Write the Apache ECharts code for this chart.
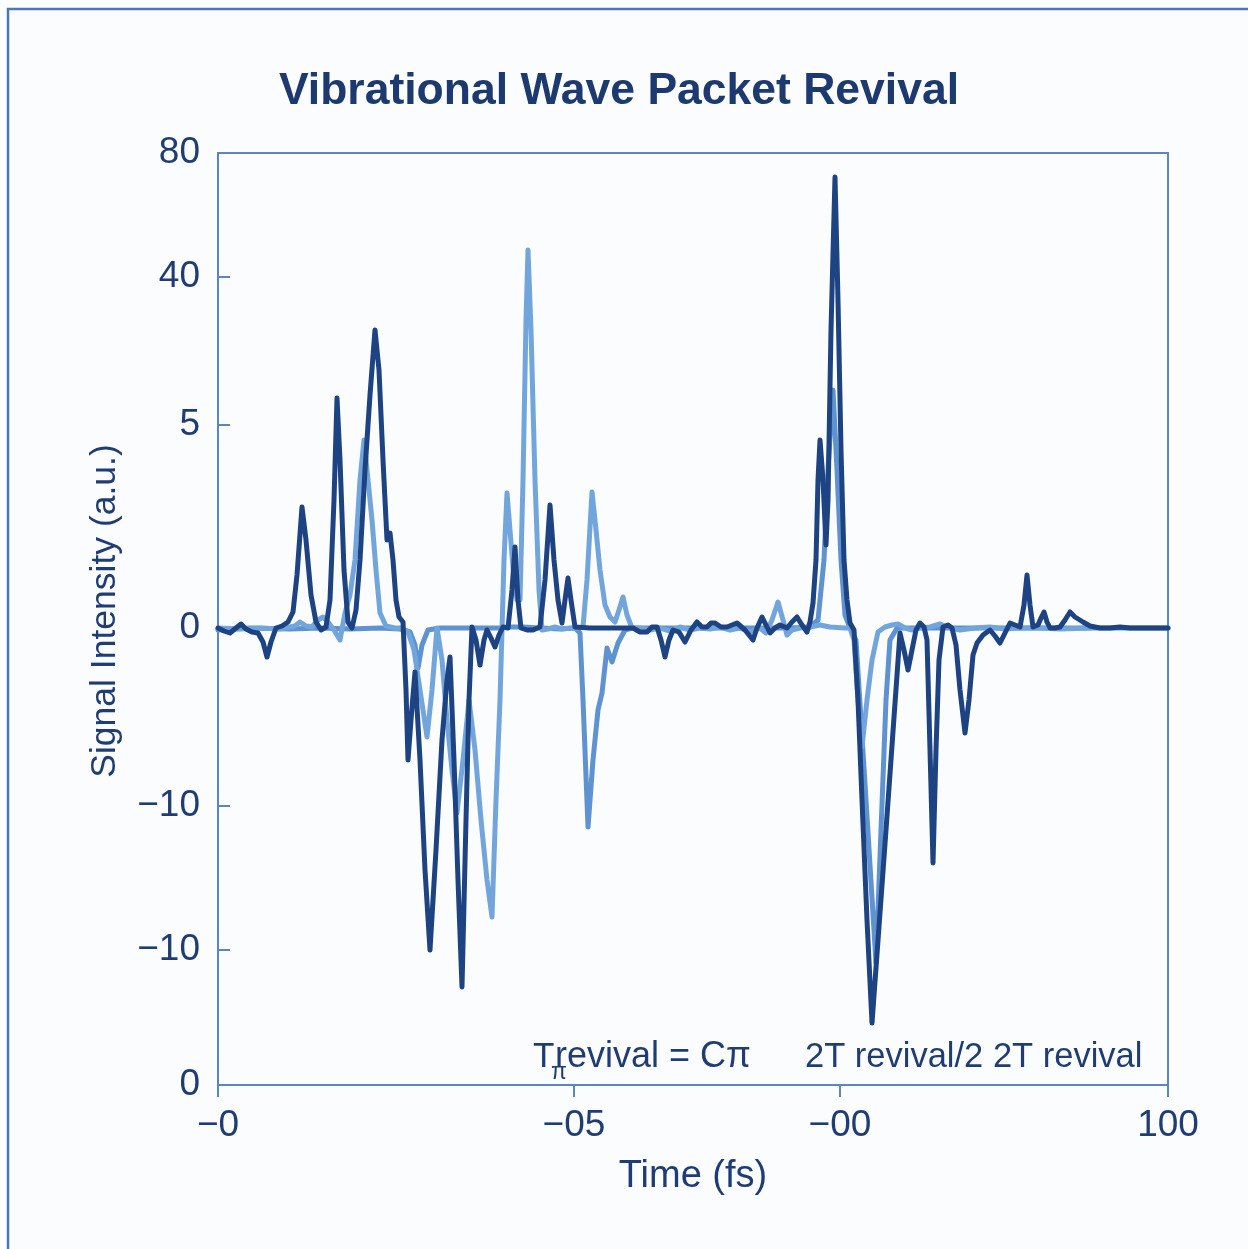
<!DOCTYPE html>
<html>
<head>
<meta charset="utf-8">
<title>Vibrational Wave Packet Revival</title>
<script src="https://cdn.jsdelivr.net/npm/echarts@6/dist/echarts.min.js"></script>
<style>
  html, body { margin: 0; padding: 0; background: #ffffff; }
  #chart { width: 1248px; height: 1249px; }
</style>
</head>
<body>
<div id="chart"></div>
<script>
// axes are in plot units: time 0..950, signal -457..475 (labels as printed on the original)
var xTicks = [0, 356, 622, 950]
var xTickLabels = ['\u22120', '\u221205', '\u221200', '100']
var yTicks = [475, 351, 203, 0, -178, -322, -457]
var yTickLabels = ['80', '40', '5', '0', '\u221210', '\u221210', '0']

// dark navy trace
var darkT = [0, 6, 12, 18, 23, 28, 34, 40, 45, 49, 53, 58, 64, 70, 75, 79, 84, 88, 93, 98,
  103, 108, 112, 116, 119, 122, 126, 130, 134, 138, 142, 147, 152, 157, 161, 165, 169, 172, 175, 178,
  181, 185, 188, 190, 193, 197, 202, 207, 212, 218, 224, 229, 232, 236, 240, 244, 248, 251, 254, 258,
  262, 266, 269, 273, 277, 281, 285, 290, 294, 297, 300, 303, 309, 315, 322, 327, 332, 336, 340, 344,
  347, 350, 353, 357, 372, 387, 402, 415, 422, 429, 434, 439, 443, 447, 451, 455, 461, 467, 473, 479,
  484, 489, 493, 497, 503, 509, 514, 519, 527, 535, 539, 544, 548, 552, 557, 562, 569, 574, 579, 584,
  589, 592, 595, 598, 600, 602, 605, 608, 610, 613, 617, 620, 623, 626, 629, 632, 636, 640, 644, 649,
  654, 668, 682, 686, 690, 694, 698, 702, 706, 709, 712, 715, 718, 721, 725, 730, 734, 738, 742, 747,
  751, 755, 759, 765, 772, 777, 782, 787, 792, 797, 802, 806, 809, 812, 815, 820, 823, 826, 829, 832,
  837, 842, 847, 852, 857, 865, 872, 882, 892, 902, 912, 922, 932, 942, 950]
var darkY = [0, -3, -5, 0, 4, -1, -4, -5, -14, -29, -14, 0, 2, 6, 16, 53, 121, 88, 33, 6,
  -2, 1, 28, 128, 230, 168, 58, 6, 0, 18, 68, 158, 233, 298, 258, 168, 88, 95, 68, 28,
  11, 6, -62, -132, -92, -44, -132, -242, -322, -222, -112, -52, -29, -132, -252, -359, -192, -72, 1, -12,
  -37, -12, -2, -10, -19, -7, 1, 0, 38, 81, 28, 0, -2, -2, 1, 48, 123, 68, 28, 5,
  28, 50, 28, 1, 0, 0, 0, 0, -4, -4, 1, 1, -12, -29, -12, -2, -4, -14, -2, 6,
  1, 1, 5, 5, 1, 1, 3, 5, -2, -12, 0, 11, 3, -5, 0, 3, 0, 6, 11, 3,
  -4, 6, 25, 68, 148, 188, 148, 83, 128, 298, 451, 328, 178, 68, 28, 5, -2, -72, -172, -292,
  -395, -202, -5, -22, -42, -22, -2, 5, 1, -12, -122, -235, -122, -32, 1, 3, 0, -17, -62, -105,
  -72, -27, -15, -7, -2, -8, -15, -5, 5, 3, 1, 23, 53, 23, 1, 3, 10, 16, 6, 0,
  0, 1, 8, 16, 11, 6, 2, 0, 0, 1, 0, 0, 0, 0, 0]

// mid blue trace
var midT = [0, 32, 72, 102, 132, 162, 182, 192, 197, 200, 204, 210, 222, 252, 282, 292, 305, 322, 342, 357,
  362, 365, 370, 375, 380, 384, 389, 394, 400, 407, 414, 432, 482, 532, 572, 592, 600, 606, 610, 615,
  619, 623, 627, 632, 638, 648, 658, 663, 668, 672, 679, 702, 742, 782, 832, 882, 950]
var midY = [-2, 0, -1, 0, -1, 0, -1, -4, -17, -40, -17, -2, 0, 0, 0, 1, 1, 0, -1, 0,
  -5, -72, -199, -132, -82, -65, -20, -34, -15, -2, 0, 0, 0, 0, 0, 1, 8, 68, 158, 238,
  158, 68, 13, 0, -12, -172, -335, -202, -72, -12, 0, 0, 0, 0, 0, 0, 0]

// light blue trace
var lightT = [0, 22, 42, 62, 77, 82, 88, 94, 100, 105, 110, 116, 122, 127, 132, 137, 142, 146, 150, 154,
  158, 162, 168, 177, 184, 190, 196, 202, 209, 214, 219, 224, 229, 234, 239, 245, 251, 257, 263, 269,
  274, 278, 282, 286, 289, 292, 295, 299, 302, 305, 308, 310, 313, 317, 321, 324, 330, 337, 344, 352,
  360, 365, 369, 374, 378, 382, 387, 392, 397, 401, 405, 409, 414, 422, 432, 442, 452, 462, 472, 482,
  492, 502, 512, 522, 532, 542, 548, 554, 560, 565, 569, 574, 582, 592, 602, 612, 627, 632, 636, 640,
  644, 649, 654, 660, 667, 674, 680, 687, 694, 702, 712, 722, 732, 742, 757, 772, 787, 802, 822, 842,
  872]
var lightY = [0, -1, 0, -1, 2, 6, 2, 1, 8, 11, 6, -2, -12, 15, 33, 68, 148, 188, 148, 108,
  58, 15, 2, 0, 0, -4, -22, -62, -109, -62, 0, -32, -92, -142, -185, -132, -72, -122, -192, -252,
  -289, -172, -72, 68, 135, 98, 61, 28, 28, 148, 308, 378, 298, 148, 38, -2, -1, 1, -1, 0,
  0, 1, 48, 136, 98, 58, 23, 11, 6, 18, 31, 13, 0, 0, -2, 0, -3, 1, -2, 0,
  -1, 1, -2, 0, -4, 0, -5, 8, 26, 8, -7, -2, 0, 1, 3, 1, 0, 0, -12, -72,
  -119, -72, -32, -4, 1, 3, 4, 0, -2, 0, 1, 4, 0, -2, 0, 1, -1, 0, 0, -1,
  0]

function zip (t, y) {
  var out = []
  for (var i = 0; i < t.length; i++) {
    out.push([t[i], y[i]])
  }
  return out
}

var axisColor = '#5b86c4'
var textColor = '#1f3d74'
var font = '"Liberation Sans", Arial, Helvetica, sans-serif'

var myChart = echarts.init(document.getElementById('chart'))
var option = {
  backgroundColor: '#ffffff',
  animation: false,
  textStyle: { fontFamily: font },
  grid: {
    left: 218,
    right: 80,
    top: 153,
    bottom: 164,
    show: true,
    borderColor: axisColor,
    borderWidth: 2
  },
  xAxis: {
    type: 'value',
    min: 0,
    max: 950,
    name: 'Time (fs)',
    nameLocation: 'middle',
    nameGap: 73,
    nameTextStyle: { color: textColor, fontSize: 38, fontFamily: font },
    splitLine: { show: false },
    axisLine: { show: true, onZero: false, lineStyle: { color: axisColor, width: 2 } },
    axisTick: {
      show: true,
      customValues: xTicks,
      inside: false,
      length: 12,
      lineStyle: { color: axisColor, width: 2 }
    },
    axisLabel: {
      customValues: xTicks,
      margin: 22,
      fontSize: 37,
      color: textColor,
      fontFamily: font,
      formatter: function (value) {
        var i = xTicks.indexOf(value)
        return i >= 0 ? xTickLabels[i] : ''
      }
    }
  },
  yAxis: {
    type: 'value',
    min: -457,
    max: 475,
    splitLine: { show: false },
    axisLine: { show: true, onZero: false, lineStyle: { color: axisColor, width: 2 } },
    axisTick: {
      show: true,
      customValues: [351, 203, -178, -322],
      inside: true,
      length: 12,
      lineStyle: { color: axisColor, width: 2 }
    },
    axisLabel: {
      customValues: yTicks,
      margin: 18,
      fontSize: 37,
      color: textColor,
      fontFamily: font,
      formatter: function (value) {
        var i = yTicks.indexOf(value)
        return i >= 0 ? yTickLabels[i] : ''
      }
    }
  },
  graphic: [
    {
      type: 'rect',
      z: -10,
      silent: true,
      shape: { x: 8, y: 9, width: 1300, height: 1300 },
      style: { fill: '#fbfcfe', stroke: '#4a78b8', lineWidth: 2.5 }
    },
    {
      type: 'text',
      x: 619,
      y: 92,
      style: {
        text: 'Vibrational Wave Packet Revival',
        fill: '#1c3a70',
        font: 'bold 44.5px ' + font,
        align: 'center',
        verticalAlign: 'middle'
      }
    },
    {
      // y axis title
      type: 'text',
      x: 105,
      y: 611,
      rotation: Math.PI / 2,
      style: {
        text: 'Signal Intensity (a.u.)',
        fill: textColor,
        font: '35.5px ' + font,
        align: 'center',
        verticalAlign: 'middle'
      }
    },
    {
      type: 'text',
      x: 533,
      y: 1057,
      style: { text: 'T', fill: textColor, font: '35px ' + font, align: 'left', verticalAlign: 'middle' }
    },
    {
      type: 'text',
      x: 551,
      y: 1073,
      style: { text: '\u03c0', fill: textColor, font: '23px ' + font, align: 'left', verticalAlign: 'middle' }
    },
    {
      type: 'text',
      x: 555,
      y: 1057,
      style: { text: 'revival = C\u03c0', fill: textColor, font: '36px ' + font, align: 'left', verticalAlign: 'middle' }
    },
    {
      type: 'text',
      x: 805,
      y: 1057,
      style: { text: '2T revival/2 2T revival', fill: textColor, font: '34.5px ' + font, align: 'left', verticalAlign: 'middle' }
    }
  ],
  series: [
    {
      name: 'mid',
      type: 'line',
      data: zip(midT, midY),
      showSymbol: false,
      lineStyle: { color: '#5e92d1', width: 5, join: 'round', cap: 'round' },
      z: 2
    },
    {
      name: 'light',
      type: 'line',
      data: zip(lightT, lightY),
      showSymbol: false,
      lineStyle: { color: '#72a5dc', width: 5, join: 'round', cap: 'round' },
      z: 3
    },
    {
      name: 'dark',
      type: 'line',
      data: zip(darkT, darkY),
      showSymbol: false,
      lineStyle: { color: '#1d4382', width: 5, join: 'round', cap: 'round' },
      z: 4
    }
  ]
}
myChart.setOption(option)
</script>
</body>
</html>
